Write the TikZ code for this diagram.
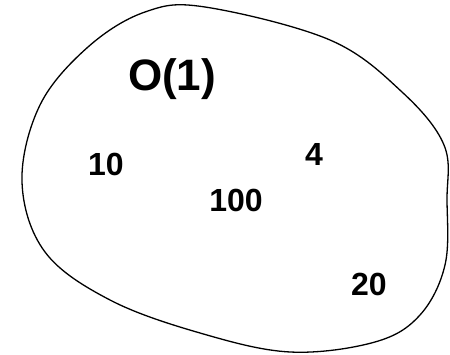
\documentclass[tikz,border=0pt]{standalone}
\usepackage{fontspec}
\setmainfont{Liberation Sans}
\usepackage{tikz}

\begin{document}
\begin{tikzpicture}[
      x=1pt, y=-1pt,
      blob/.style={draw, line width=1.3pt, smooth cycle, tension=0.6},
      big/.style={font=\fontsize{44}{44}\selectfont\bfseries, inner sep=0pt},
      num/.style={font=\fontsize{32}{32}\selectfont\bfseries, inner sep=0pt}]
    \useasboundingbox (0,0) rectangle (450,355);
    % outline of the set
    \draw[blob] plot coordinates {(205,7) (330,40) (402,92) (444,145) (447,200)
      (445,265) (420,315) (375,342) (290,352) (200,333) (110,300) (45,252)
      (22,182) (40,105) (88,47) (145,12)};
    % labels
    \node[big] (ord) at (172,79) {O(1)};
    \node[num] (ten) at (106,164) {10};
    \node[num] (four) at (314,154) {4};
    \node[num] (hund) at (236,200) {100};
    \node[num] (twen) at (369,284) {20};
  \end{tikzpicture}
\end{document}
